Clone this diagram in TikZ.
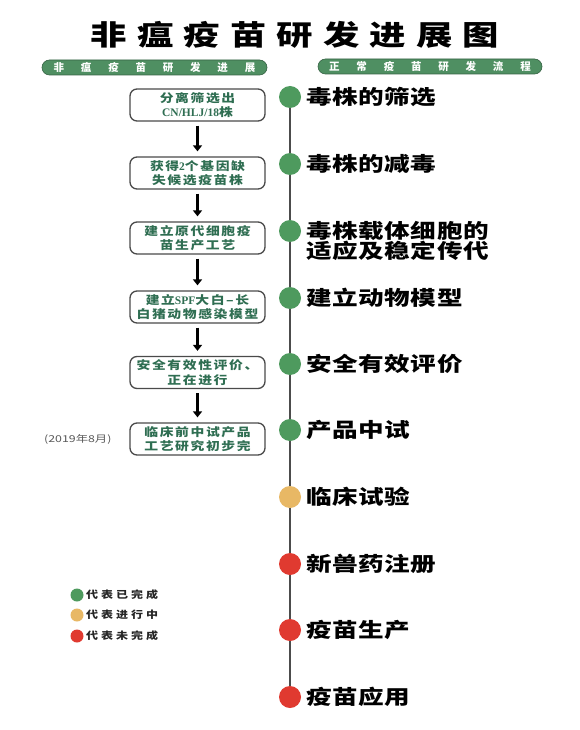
\documentclass[tikz,border=0pt]{standalone}
\usepackage{fontspec}
\setmainfont{Liberation Serif}
\newfontfamily\cjk{Noto Sans CJK SC}
\usetikzlibrary{arrows.meta,backgrounds}
\definecolor{dgreen}{HTML}{4E9A5E}
\definecolor{dorange}{HTML}{E8B865}
\definecolor{dred}{HTML}{E03A30}
\definecolor{bannergreen}{HTML}{4F8F62}
\definecolor{boxtext}{HTML}{2F6E52}
\definecolor{boxline}{HTML}{4A4A4A}
\newcommand{\lt}[1]{{\rmfamily\bfseries #1}}
\tikzset{
  titlestyle/.style={inner sep=0pt, font=\cjk\bfseries\fontsize{28}{32}\selectfont\addfontfeature{FakeStretch=1.3,LetterSpace=36}},
  banner/.style={fill=bannergreen, draw=bannergreen!70!black, line width=0.6pt, rounded corners=7.5pt,
     minimum height=15pt, inner sep=0pt, text=white,
     font=\cjk\bfseries\fontsize{10.5}{12}\selectfont\addfontfeature{LetterSpace=160}},
  lbox/.style={draw=boxline, line width=1.3pt, rounded corners=7pt, fill=white,
     minimum width=135pt, minimum height=32pt, inner sep=0pt, align=center, text=boxtext,
     font=\cjk\bfseries\fontsize{11.5}{14.5}\selectfont\addfontfeature{FakeStretch=1.2,LetterSpace=14}},
  arr/.style={line width=3pt, -{Triangle[width=9pt,length=6pt]}, shorten <=4pt, shorten >=5pt},
  dot/.style={circle, minimum size=22pt, inner sep=0pt},
  ldot/.style={circle, minimum size=13pt, inner sep=0pt},
  tl/.style={line width=2.2pt, draw=black!70},
  rlabel/.style={anchor=west, inner sep=0pt, align=left,
     font=\cjk\bfseries\fontsize{20}{20.5}\selectfont\addfontfeature{FakeStretch=1.28,LetterSpace=3}},
  legtext/.style={anchor=west, inner sep=0pt, text=black!85,
     font=\cjk\bfseries\fontsize{10}{12}\selectfont\addfontfeature{FakeStretch=1.2,LetterSpace=30}},
  datetext/.style={anchor=west, inner sep=0pt, text=black!65, font=\cjk\fontsize{9.5}{11}\selectfont\addfontfeature{FakeStretch=1.3}}
}
\begin{document}
\begin{tikzpicture}[x=1pt,y=-1pt]
\useasboundingbox (0,0) rectangle (580,730);
% title
\node[titlestyle] (title) at (295,35) {非瘟疫苗研发进展图};
% banners
\node[banner, minimum width=225pt] (bl) at (154.5,67.5) {非瘟疫苗研发进展};
\node[banner, minimum width=224pt] (br) at (430,66.5) {正常疫苗研发流程};
% left boxes
\node[lbox] (b1) at (197.5,105) {分离筛选出\\\lt{CN/HLJ/18}株};
\node[lbox] (b2) at (197.5,173) {获得\lt{2}个基因缺\\失候选疫苗株};
\node[lbox] (b3) at (197.5,238) {建立原代细胞疫\\苗生产工艺};
\node[lbox] (b4) at (197.5,307) {建立\lt{SPF}大白–长\\白猪动物感染模型};
\node[lbox] (b5) at (197.5,372.5) {安全有效性评价、\\正在进行};
\node[lbox] (b6) at (197.5,439) {临床前中试产品\\工艺研究初步完};
\draw[arr] (b1) -- (b2);
\draw[arr] (b2) -- (b3);
\draw[arr] (b3) -- (b4);
\draw[arr] (b4) -- (b5);
\draw[arr] (b5) -- (b6);
\node[datetext] (date) at (44,439) {(2019年8月)};
% timeline dots
\node[dot, fill=dgreen] (d1) at (290,97) {};
\node[dot, fill=dgreen] (d2) at (290,164) {};
\node[dot, fill=dgreen] (d3) at (290,231) {};
\node[dot, fill=dgreen] (d4) at (290,298) {};
\node[dot, fill=dgreen] (d5) at (290,364) {};
\node[dot, fill=dgreen] (d6) at (290,430) {};
\node[dot, fill=dorange] (d7) at (290,497) {};
\node[dot, fill=dred] (d8) at (290,564) {};
\node[dot, fill=dred] (d9) at (290,630) {};
\node[dot, fill=dred] (d10) at (290,697) {};
\begin{scope}[on background layer]
\fill[white] (0,0) rectangle (580,730);
\draw[tl] (d1.center) -- (d10.center);
\end{scope}
% right labels
\node[rlabel] (l1) at (306,97) {毒株的筛选};
\node[rlabel] (l2) at (306,164) {毒株的减毒};
\node[rlabel] (l3) at (306,241) {毒株载体细胞的\\适应及稳定传代};
\node[rlabel] (l4) at (306,298) {建立动物模型};
\node[rlabel] (l5) at (306,364) {安全有效评价};
\node[rlabel] (l6) at (306,430) {产品中试};
\node[rlabel] (l7) at (306,497) {临床试验};
\node[rlabel] (l8) at (306,564) {新兽药注册};
\node[rlabel] (l9) at (306,630) {疫苗生产};
\node[rlabel] (l10) at (306,697) {疫苗应用};
% legend
\node[ldot, fill=dgreen] (g1) at (77,595) {};
\node[ldot, fill=dorange] (g2) at (77,615) {};
\node[ldot, fill=dred] (g3) at (77,636) {};
\node[legtext] (t1) at (86,595) {代表已完成};
\node[legtext] (t2) at (86,615) {代表进行中};
\node[legtext] (t3) at (86,636) {代表未完成};
\end{tikzpicture}
\end{document}
